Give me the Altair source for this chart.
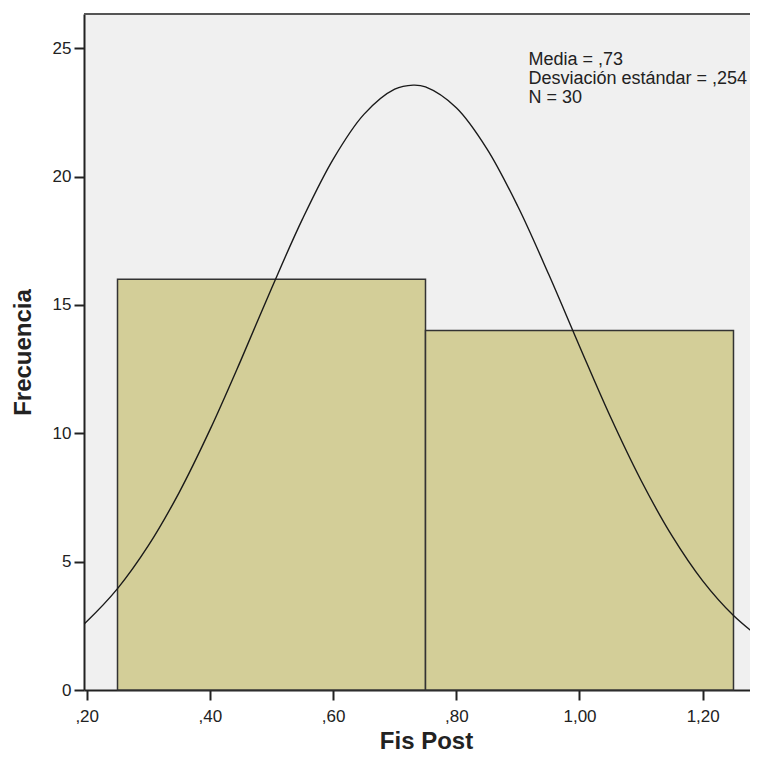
import altair as alt
import pandas as pd

# Histogram bins (Fis Post) and frequencies
bin_start = [0.25, 0.75]
bin_end = [0.75, 1.25]
counts = [16, 14]

# Normal curve
curve_x = [0.19, 0.20, 0.25, 0.30, 0.35, 0.40, 0.45, 0.50, 0.55, 0.60, 0.65,
           0.70, 0.73, 0.75, 0.80, 0.85, 0.90, 0.95, 1.00, 1.05, 1.10, 1.15,
           1.20, 1.25, 1.30]
curve_y = [2.46, 2.67, 3.95, 5.62, 7.69, 10.13, 12.83, 15.64, 18.33, 20.67, 22.42,
           23.40, 23.56, 23.49, 22.68, 21.07, 18.83, 16.19, 13.39, 10.65, 8.16, 6.01,
           4.25, 2.90, 1.90]

x_ticks = [0.2, 0.4, 0.6, 0.8, 1.0, 1.2]
x_tick_labels = [",20", ",40", ",60", ",80", "1,00", "1,20"]
y_ticks = [0, 5, 10, 15, 20, 25]

annot_lines = ["Media = ,73", "Desviación estándar = ,254", "N = 30"]
annot_x = [0.9172]
annot_y = [24.35]

bars_df = pd.DataFrame({"start": bin_start, "end": bin_end, "count": counts,
                        "base": [0] * len(counts)})
curve_df = pd.DataFrame({"x": curve_x, "y": curve_y})
annot_df = pd.DataFrame({"x": annot_x, "y": annot_y, "t": ["\n".join(annot_lines)]})

FONT = "Liberation Sans"
DARK = "#222222"
W, H = 666, 676

xs = alt.Scale(domain=[0.1956, 1.2768], nice=False, zero=False)
ys = alt.Scale(domain=[0, 26.33], nice=False, zero=False)

label_expr = "[" + ",".join("'%s'" % s for s in x_tick_labels) + "][indexof([" + \
    ",".join(repr(v) for v in x_ticks) + "], datum.value)]"

x_axis = alt.Axis(values=x_ticks, labelExpr=label_expr, tickSize=10, tickWidth=2,
                  tickColor=DARK, domainColor=DARK, domainWidth=2,
                  labelBaseline="alphabetic", labelPadding=21, labelFontSize=17,
                  labelFont=FONT, labelColor=DARK, grid=False,
                  title="Fis Post", titleFont=FONT, titleFontSize=24,
                  titleFontWeight="bold", titleColor=DARK, titleX=342, titleY=58,
                  titleBaseline="alphabetic", titleAlign="center")
y_axis = alt.Axis(values=y_ticks, tickSize=10, tickWidth=2, tickColor=DARK,
                  domainColor=DARK, domainWidth=2, labelFontSize=17, labelFont=FONT,
                  labelColor=DARK, labelPadding=3, grid=False,
                  title="Frecuencia", titleFont=FONT, titleFontSize=24,
                  titleFontWeight="bold", titleColor=DARK, titleX=-61, titleY=338,
                  titleAngle=270, titleBaseline="middle", titleAlign="center")

bars = alt.Chart(bars_df).mark_rect(fill="#d3ce98", stroke="#333333", strokeWidth=1.5).encode(
    x=alt.X("start:Q", scale=xs, axis=x_axis),
    x2="end:Q",
    y=alt.Y("count:Q", scale=ys, axis=y_axis),
    y2="base:Q",
)

curve = alt.Chart(curve_df).mark_line(color="#1a1a1a", strokeWidth=1.4, clip=True,
                                      interpolate="catmull-rom").encode(
    x=alt.X("x:Q", scale=xs),
    y=alt.Y("y:Q", scale=ys),
)

annot = alt.Chart(annot_df).mark_text(align="left", baseline="alphabetic", fontSize=18,
                                      lineHeight=19, lineBreak="\n", font=FONT,
                                      color=DARK).encode(
    x=alt.X("x:Q", scale=xs),
    y=alt.Y("y:Q", scale=ys),
    text="t:N",
)

# top frame line of the plot area (the plot continues past the right edge)
top_border = alt.Chart(pd.DataFrame({"k": [0]})).mark_rule(
    color="#555555", strokeWidth=2).encode(
    x=alt.value(0), x2=alt.value(W), y=alt.value(0))

chart = alt.layer(bars, curve, annot, top_border).properties(
    width=W, height=H,
    autosize=alt.AutoSizeParams(type="none"),
    padding={"left": 76, "top": 6, "right": 0, "bottom": 64},
    background="white",
).configure_view(stroke=None, fill="#f0f0f0")

chart.save("out.html", embed_options={"renderer": "svg", "actions": False})
